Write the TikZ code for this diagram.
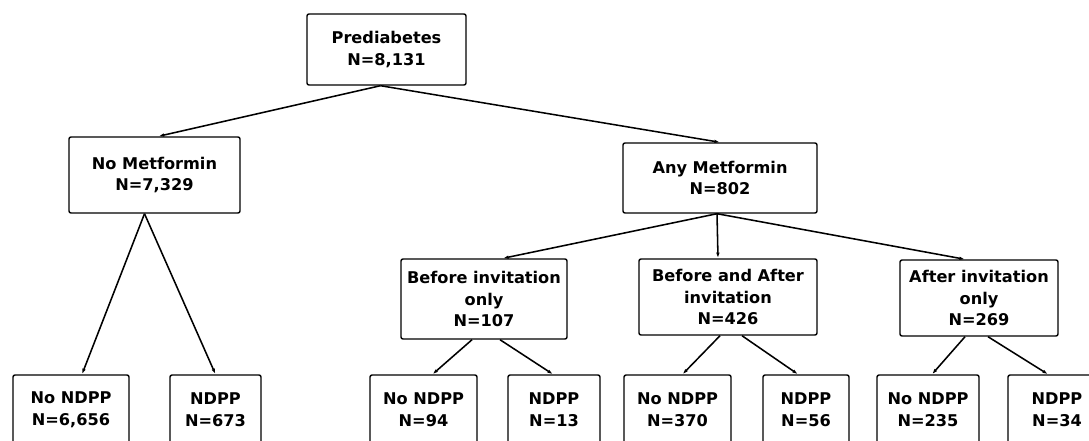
\documentclass[tikz,border=0pt]{standalone}
\usepackage{fontspec}
\setmainfont{DejaVu Sans}
\usetikzlibrary{arrows.meta}

\begin{document}
\begin{tikzpicture}[x=0.025cm,y=-0.025cm,
  every path/.style={>={Latex[length=4pt,width=2.5pt]}},
  box/.style={draw,rectangle,rounded corners=1.5pt,line width=1pt,align=center,
    inner sep=0pt,font=\fontsize{11.5}{15.6}\selectfont\bfseries},
  link/.style={->,line width=1.1pt}]
\path[use as bounding box,clip] (0,0) rectangle (1089,440);
% top levels
\node[box,minimum width=3.975cm,minimum height=1.775cm] (pre)    at (386.5,49.5) {Prediabetes\\N=8,131};
\node[box,minimum width=4.275cm,minimum height=1.9cm]   (nomet)  at (154.5,175)  {No Metformin\\N=7,329};
\node[box,minimum width=4.85cm,minimum height=1.75cm]   (anymet) at (720,178)    {Any Metformin\\N=802};
\node[box,minimum width=4.15cm,minimum height=2.0cm]    (bi)     at (484,299)    {Before invitation\\only\\N=107};
\node[box,minimum width=4.45cm,minimum height=1.9cm]    (ba)     at (728,297)    {Before and After\\invitation\\N=426};
\node[box,minimum width=3.95cm,minimum height=1.9cm]    (ai)     at (979,298)    {After invitation\\only\\N=269};
% bottom level
\node[box,minimum width=2.9cm,minimum height=1.75cm]   (b1) at (71,410)     {No NDPP\\N=6,656};
\node[box,minimum width=2.275cm,minimum height=1.75cm] (b2) at (215.5,410)  {NDPP\\N=673};
\node[box,minimum width=2.675cm,minimum height=1.75cm] (b3) at (423.5,410)  {No NDPP\\N=94};
\node[box,minimum width=2.3cm,minimum height=1.75cm]   (b4) at (554,410)    {NDPP\\N=13};
\node[box,minimum width=2.675cm,minimum height=1.75cm] (b5) at (677.5,410)  {No NDPP\\N=370};
\node[box,minimum width=2.15cm,minimum height=1.75cm]  (b6) at (806,410)    {NDPP\\N=56};
\node[box,minimum width=2.55cm,minimum height=1.75cm]  (b7) at (928,410)    {No NDPP\\N=235};
\node[box,minimum width=2.45cm,minimum height=1.75cm]  (b8) at (1057,410)   {NDPP\\N=34};
% links
\draw[link] ([shift={(-6,0)}]pre.south) -- ([shift={(4,0)}]nomet.north);
\draw[link] ([shift={(-6,0)}]pre.south) -- (anymet.north);
\draw[link] ([shift={(-10,0)}]nomet.south) -- ([shift={(11,0)}]b1.north);
\draw[link] ([shift={(-10,0)}]nomet.south) -- (b2.north);
\draw[link] ([shift={(-3,0)}]anymet.south) -- ([shift={(19,0)}]bi.north);
\draw[link] ([shift={(-3,0)}]anymet.south) -- ([shift={(-10,0)}]ba.north);
\draw[link] ([shift={(-3,0)}]anymet.south) -- ([shift={(-14,0)}]ai.north);
\draw[link] ([shift={(-12,0)}]bi.south) -- ([shift={(9,0)}]b3.north);
\draw[link] ([shift={(16,0)}]bi.south)  -- ([shift={(-1,0)}]b4.north);
\draw[link] ([shift={(-8,0)}]ba.south)  -- ([shift={(5,0)}]b5.north);
\draw[link] ([shift={(14,0)}]ba.south)  -- ([shift={(-8,0)}]b6.north);
\draw[link] ([shift={(-14,0)}]ai.south) -- ([shift={(4,0)}]b7.north);
\draw[link] ([shift={(9,0)}]ai.south)   -- ([shift={(-9,0)}]b8.north);
\end{tikzpicture}
\end{document}
